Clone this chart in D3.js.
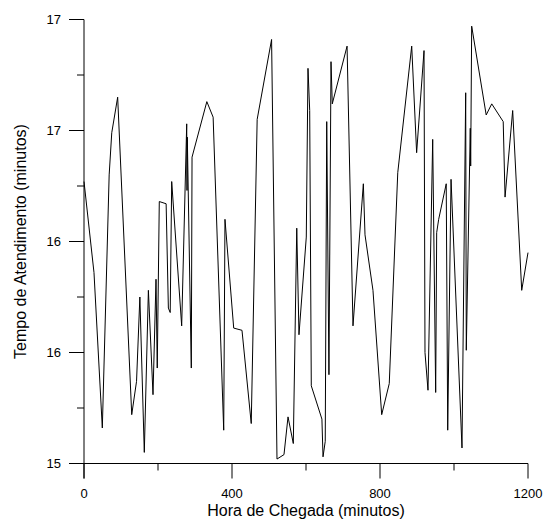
<!DOCTYPE html>
<html>
<head>
<meta charset="utf-8">
<script src="https://cdn.jsdelivr.net/npm/d3@7"></script>
<style>
  html, body { margin: 0; padding: 0; background: #fff; }
  text { font-family: "Liberation Sans", Arial, sans-serif; fill: #000; }
</style>
</head>
<body>
<div id="chart"></div>
<script>
// Hora de chegada (minutos) e tempo de atendimento (minutos)
const arrivalTimes = [
  0, 27, 49.5, 68, 75, 91, 129, 142, 151, 163, 174, 186.5, 194.6, 198, 203.5,
  222, 228, 233, 237, 264, 277.6, 278.4, 279.2, 290, 292, 332, 349, 377.6, 381,
  404.6, 427, 452, 468, 507, 521.6, 540.5, 551.4, 565.7, 575, 581, 600.8, 605.4,
  610, 614.3, 643, 646, 652, 656, 662, 667.6, 671, 711, 727, 755, 759.5, 781,
  804.6, 825, 848, 885.7, 899, 919, 921.6, 929.7, 942.4, 950.5, 953.2, 958.6,
  979, 983, 992, 1021.6, 1031.6, 1033.2, 1044, 1045.1, 1047.8, 1087, 1102, 1133,
  1138, 1158.6, 1183, 1200
];
const serviceTimes = [
  16.27, 15.86, 15.16, 16.30, 16.49, 16.65, 15.22, 15.37, 15.75, 15.05, 15.78,
  15.31, 15.83, 15.43, 16.18, 16.17, 15.70, 15.68, 16.27, 15.62, 16.53, 16.23,
  16.47, 15.43, 16.38, 16.63, 16.56, 15.15, 16.10, 15.61, 15.60, 15.18, 16.55,
  16.91, 15.02, 15.04, 15.21, 15.09, 16.06, 15.58, 16.02, 16.78, 16.59, 15.35,
  15.20, 15.03, 15.10, 16.54, 15.40, 16.81, 16.62, 16.88, 15.62, 16.26, 16.03,
  15.78, 15.22, 15.36, 16.31, 16.88, 16.40, 16.86, 15.50, 15.33, 16.46, 15.32,
  16.04, 16.10, 16.26, 15.15, 16.28, 15.07, 16.67, 15.51, 16.51, 16.34, 16.97,
  16.57, 16.62, 16.54, 16.20, 16.59, 15.78, 15.95
];

const xMajorTicks = [0, 400, 800, 1200];
const xMinorTicks = [200, 600, 1000];
const yMajorTicks = [15, 15.5, 16, 16.5, 17];
const yMinorTicks = [15.25, 15.75, 16.25, 16.75];

const xTitle = 'Hora de Chegada (minutos)';
const yTitle = 'Tempo de Atendimento (minutos)';

const width = 543;
const height = 520;
const majorLen = 15;
const minorLen = 7;

const x = d3.scaleLinear().domain([0, 1200]).range([84, 528]);
const y = d3.scaleLinear().domain([15, 17]).range([463.5, 19.5]);

const svg = d3.select('#chart')
  .append('svg')
  .attr('width', width)
  .attr('height', height);

// Serie
const data = arrivalTimes.map((t, i) => ({ t, v: serviceTimes[i] }));
const line = d3.line()
  .x(d => x(d.t))
  .y(d => y(d.v));

svg.append('path')
  .datum(data)
  .attr('d', line)
  .attr('fill', 'none')
  .attr('stroke', '#000')
  .attr('stroke-width', 1)
  .attr('stroke-linejoin', 'miter');

// Eixo Y
const yAxis = svg.append('g').attr('class', 'y-axis');
yAxis.append('line')
  .attr('x1', x(0)).attr('x2', x(0))
  .attr('y1', y(17)).attr('y2', y(15) + majorLen)
  .attr('stroke', '#000');
yAxis.selectAll('.major')
  .data(yMajorTicks)
  .join('line')
    .attr('class', 'major')
    .attr('x1', x(0) - majorLen).attr('x2', x(0))
    .attr('y1', d => y(d)).attr('y2', d => y(d))
    .attr('stroke', '#000');
yAxis.selectAll('.minor')
  .data(yMinorTicks)
  .join('line')
    .attr('class', 'minor')
    .attr('x1', x(0) - minorLen).attr('x2', x(0))
    .attr('y1', d => y(d)).attr('y2', d => y(d))
    .attr('stroke', '#000');
yAxis.selectAll('.label')
  .data(yMajorTicks)
  .join('text')
    .attr('class', 'label')
    .attr('x', 61)
    .attr('y', d => y(d))
    .attr('dy', '0.35em')
    .attr('text-anchor', 'end')
    .style('font-size', '13px')
    .text(d3.format('.0f'));

// Eixo X
const xAxis = svg.append('g').attr('class', 'x-axis');
xAxis.append('line')
  .attr('x1', x(0) - majorLen).attr('x2', x(1200))
  .attr('y1', y(15)).attr('y2', y(15))
  .attr('stroke', '#000');
xAxis.selectAll('.major')
  .data(xMajorTicks)
  .join('line')
    .attr('class', 'major')
    .attr('x1', d => x(d)).attr('x2', d => x(d))
    .attr('y1', y(15)).attr('y2', y(15) + majorLen)
    .attr('stroke', '#000');
xAxis.selectAll('.minor')
  .data(xMinorTicks)
  .join('line')
    .attr('class', 'minor')
    .attr('x1', d => x(d)).attr('x2', d => x(d))
    .attr('y1', y(15)).attr('y2', y(15) + minorLen)
    .attr('stroke', '#000');
xAxis.selectAll('.label')
  .data(xMajorTicks)
  .join('text')
    .attr('class', 'label')
    .attr('x', d => x(d))
    .attr('y', 498)
    .attr('text-anchor', 'middle')
    .style('font-size', '13px')
    .text(d => d);

// Titulos
svg.append('text')
  .attr('x', (x(0) + x(1200)) / 2)
  .attr('y', 516)
  .attr('text-anchor', 'middle')
  .style('font-size', '16px')
  .text(xTitle);

svg.append('text')
  .attr('transform', `translate(26,${(y(15) + y(17)) / 2}) rotate(-90)`)
  .attr('text-anchor', 'middle')
  .style('font-size', '16px')
  .text(yTitle);
</script>
</body>
</html>
